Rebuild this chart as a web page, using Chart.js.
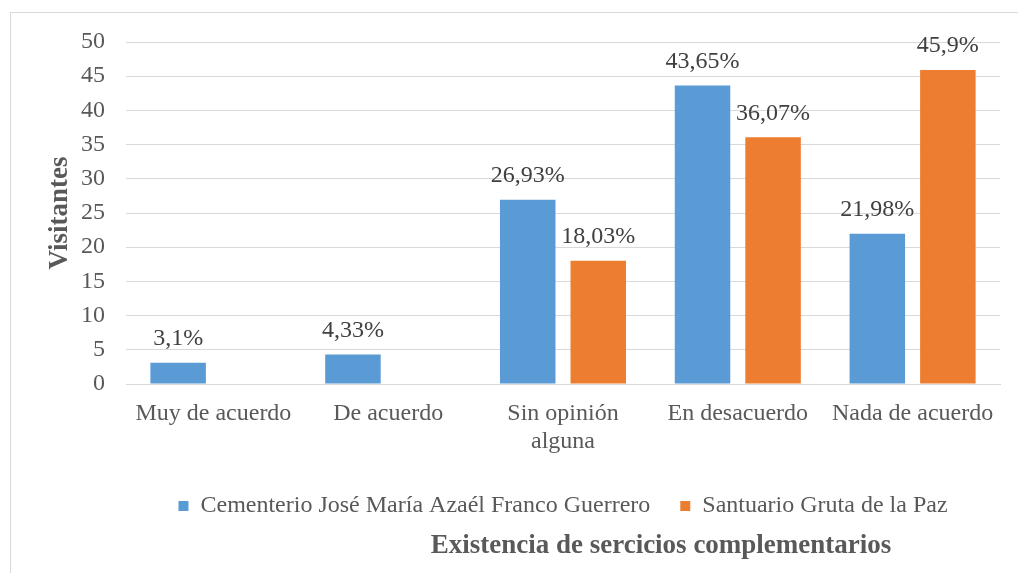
<!DOCTYPE html>
<html>
<head>
<meta charset="utf-8">
<script src="https://cdn.jsdelivr.net/npm/chart.js@4/dist/chart.umd.min.js"></script>
<style>
  html, body { margin: 0; padding: 0; background: #fff; overflow: hidden; }
  #wrap { position: relative; width: 1018px; height: 573px; }
  #frame { position: absolute; left: 10px; top: 12px; width: 1100px; height: 700px; border: 1px solid #d9d9d9; box-sizing: border-box; }
  canvas { position: absolute; left: 0; top: 0; }
</style>
</head>
<body>
<div id="wrap">
  <div id="frame"></div>
  <canvas id="c" width="1018" height="573"></canvas>
</div>
<script>
const categories = ["Muy de acuerdo", "De acuerdo", ["Sin opinión", "alguna"], "En desacuerdo", "Nada de acuerdo"];
const seriesNames = ["Cementerio José María Azaél Franco Guerrero", "Santuario Gruta de la Paz"];
const cementerio = [3.1, 4.33, 26.93, 43.65, 21.98];
const santuario = [null, null, 18.03, 36.07, 45.9];
const yTicks = [0, 5, 10, 15, 20, 25, 30, 35, 40, 45, 50];
const yTitle = "Visitantes";
const xTitle = "Existencia de sercicios complementarios";

const FONT = "'Liberation Serif', 'Times New Roman', serif";

const dataLabels = {
  id: 'dataLabels',
  afterDatasetsDraw(chart) {
    const ctx = chart.ctx;
    ctx.save();
    ctx.font = "24px " + FONT;
    ctx.fillStyle = '#404040';
    ctx.textAlign = 'center';
    ctx.textBaseline = 'middle';
    chart.data.datasets.forEach((ds, i) => {
      const meta = chart.getDatasetMeta(i);
      meta.data.forEach((bar, j) => {
        const v = ds.data[j];
        if (v === null || v === undefined) return;
        ctx.fillText(String(v).replace('.', ',') + '%', bar.x, bar.y - 24);
      });
    });
    ctx.restore();
  }
};

const bottomTitle = {
  id: 'bottomTitle',
  afterDraw(chart) {
    const ctx = chart.ctx;
    ctx.save();
    ctx.font = "bold 27px " + FONT;
    ctx.fillStyle = '#595959';
    ctx.textAlign = 'center';
    ctx.textBaseline = 'middle';
    ctx.fillText(xTitle, 661, 546);
    ctx.restore();
  }
};

new Chart(document.getElementById('c'), {
  type: 'bar',
  data: {
    labels: categories,
    datasets: [
      { label: seriesNames[0], data: cementerio, backgroundColor: '#5B9BD5' },
      { label: seriesNames[1], data: santuario, backgroundColor: '#ED7D31' }
    ]
  },
  options: {
    responsive: false,
    devicePixelRatio: 1,
    animation: false,
    categoryPercentage: 0.807,
    barPercentage: 0.787,
    layout: { padding: { left: 0, right: 18, top: 42, bottom: 45 } },
    plugins: {
      legend: {
        position: 'bottom',
        fullSize: false,
        labels: {
          font: { family: FONT, size: 24 },
          color: '#595959',
          boxWidth: 10,
          boxHeight: 10,
          padding: 30
        }
      },
      title: { display: false },
      tooltip: { enabled: false }
    },
    scales: {
      x: {
        grid: { display: false },
        border: { display: true, color: '#d9d9d9', width: 1 },
        ticks: {
          font: { family: FONT, size: 24 },
          color: '#595959',
          maxRotation: 0,
          autoSkip: false,
          padding: 7
        },
        afterFit(scale) { scale.height = 80; }
      },
      y: {
        min: 0,
        max: 50,
        afterBuildTicks(scale) { scale.ticks = yTicks.map(v => ({ value: v })); },
        grid: { color: '#d9d9d9', lineWidth: 1, drawTicks: false },
        border: { display: false },
        ticks: {
          font: { family: FONT, size: 24 },
          color: '#595959',
          padding: 21
        },
        title: {
          display: true,
          text: yTitle,
          font: { family: FONT, size: 27, weight: 'bold' },
          color: '#595959',
          padding: { top: 44, bottom: 0 }
        },
        afterFit(scale) { scale.width = 126; }
      }
    }
  },
  plugins: [dataLabels, bottomTitle]
});
</script>
</body>
</html>
